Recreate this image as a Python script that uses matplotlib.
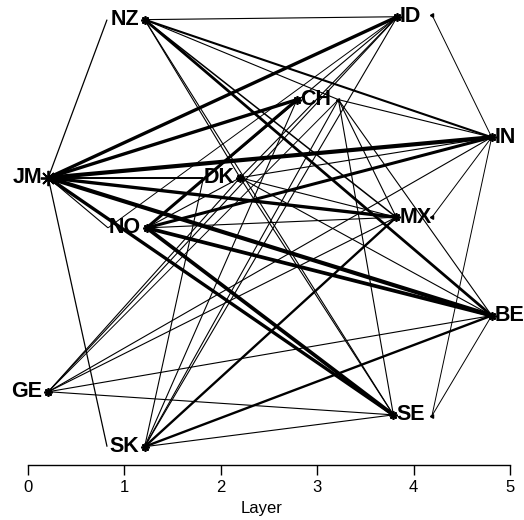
import matplotlib
matplotlib.use("Agg")
import matplotlib.pyplot as plt

plt.rcParams['font.family'] = ['Liberation Sans', 'DejaVu Sans']

# node anchor positions (x = layer, y = vertical position)
node_names = ["NZ", "NZl", "ID", "IDr", "CH", "CHr", "IN", "JM", "DK", "DKl",
              "MX", "MXr", "NO", "NOl", "BE", "GE", "SE", "SEr", "SK", "SKl"]
node_x = [1.21, 0.82, 3.83, 4.19, 2.79, 3.22, 4.81, 0.21, 2.20, 1.82,
          3.82, 4.19, 1.23, 0.83, 4.81, 0.21, 3.79, 4.19, 1.21, 0.82]
node_y = [4.62, 4.62, 4.65, 4.67, 3.79, 3.79, 3.40, 2.98, 2.98, 2.98,
          2.57, 2.57, 2.46, 2.46, 1.55, 0.76, 0.52, 0.51, 0.19, 0.19]

# labels: (text, anchor node, side)
label_text = ["NZ", "ID", "CH", "IN", "JM", "DK", "MX", "NO", "BE", "GE", "SE", "SK"]
label_node = ["NZ", "ID", "CH", "IN", "JM", "DK", "MX", "NO", "BE", "GE", "SE", "SK"]
label_side = ["left", "right", "right", "right", "left", "left", "right", "left",
              "right", "left", "right", "left"]

# edges: source, target, weight
edge_src = ["JM", "JM", "JM", "JM", "JM", "JM", "JM", "JM", "JM", "JM",
            "NZ", "NZ", "NZ", "NZ", "NZ", "NZ", "NZ",
            "ID", "ID", "ID", "ID", "ID",
            "SK", "SK", "SK", "SK", "SK", "SK",
            "GE", "GE", "GE", "GE", "GE",
            "NO", "NO", "NO", "NO", "NO", "NO",
            "DK", "DK", "DK", "DK",
            "IN", "CHr", "CHr", "CHr", "CHr",
            "IN", "IN", "IN", "BE"]
edge_dst = ["ID", "CH", "IN", "DKl", "MX", "BE", "SE", "NOl", "NZl", "SKl",
            "ID", "IN", "CHr", "MX", "BE", "SE", "DK",
            "NO", "DK", "GE", "SK", "NOl",
            "DKl", "CH", "MX", "BE", "SE", "CHr",
            "DK", "MX", "IN", "BE", "SE",
            "CH", "IN", "MX", "BE", "SE", "DK",
            "IN", "BE", "MX", "SE",
            "CHr", "SE", "BE", "MX", "GE",
            "IDr", "MXr", "SEr", "SEr"]
edge_w = [2.4, 2.4, 3.0, 1.4, 2.4, 3.0, 2.4, 0.8, 0.9, 0.9,
          0.8, 1.5, 0.8, 1.1, 2.0, 0.8, 0.8,
          0.8, 0.8, 0.8, 0.8, 0.7,
          0.8, 0.8, 1.7, 1.7, 0.8, 0.8,
          0.8, 0.8, 0.8, 0.8, 0.8,
          2.2, 2.2, 0.8, 2.7, 2.7, 0.8,
          0.8, 0.8, 0.8, 0.8,
          0.8, 0.8, 0.8, 0.8, 0.7,
          0.7, 0.7, 0.7, 0.7]

xticks = [0, 1, 2, 3, 4, 5]
xlabel = "Layer"

pos = {n: (x, y) for n, x, y in zip(node_names, node_x, node_y)}

fig = plt.figure(figsize=(5.24, 5.20), dpi=100)
ax = fig.add_axes([0, 55 / 520, 1, 465 / 520])
ax.set_xlim(-0.2905, 5.145)
ax.set_ylim(0, 465 / 96.4)

for s, d, w in zip(edge_src, edge_dst, edge_w):
    x0, y0 = pos[s]
    x1, y1 = pos[d]
    ax.plot([x0, x1], [y0, y1], color="black", lw=w, solid_capstyle="butt", zorder=2)

for n in ["NZ", "ID", "CH", "IN", "JM", "DK", "MX", "NO", "BE", "GE", "SE", "SK"]:
    x, y = pos[n]
    ms = 11 if n == "JM" else 6
    ax.plot([x], [y], marker=(8, 2, 0), color="black", ms=ms, mew=1.3, zorder=3)
for n in ["IDr", "CHr", "MXr", "SEr"]:
    x, y = pos[n]
    ax.plot([x], [y], marker=(3, 0, 90), color="black", ms=3, zorder=3)

for t, n, side in zip(label_text, label_node, label_side):
    x, y = pos[n]
    if side == "left":
        ax.text(x - 0.06, y, t, ha="right", va="center", fontsize=15.5,
                fontweight="bold", zorder=4)
    else:
        ax.text(x + 0.03, y, t, ha="left", va="center", fontsize=15.5,
                fontweight="bold", zorder=4)

for sp in ["top", "right", "left"]:
    ax.spines[sp].set_visible(False)
ax.spines["bottom"].set_bounds(0, 5)
ax.spines["bottom"].set_linewidth(1.0)
ax.set_yticks([])
ax.set_xticks(xticks)
ax.set_xticklabels([str(v) for v in xticks], fontsize=12)
ax.tick_params(axis="x", length=7, width=1.0, pad=4)
ax.set_xlabel(xlabel, fontsize=12, labelpad=4)
ax.patch.set_alpha(0)

fig.savefig("out.png", dpi=100)
